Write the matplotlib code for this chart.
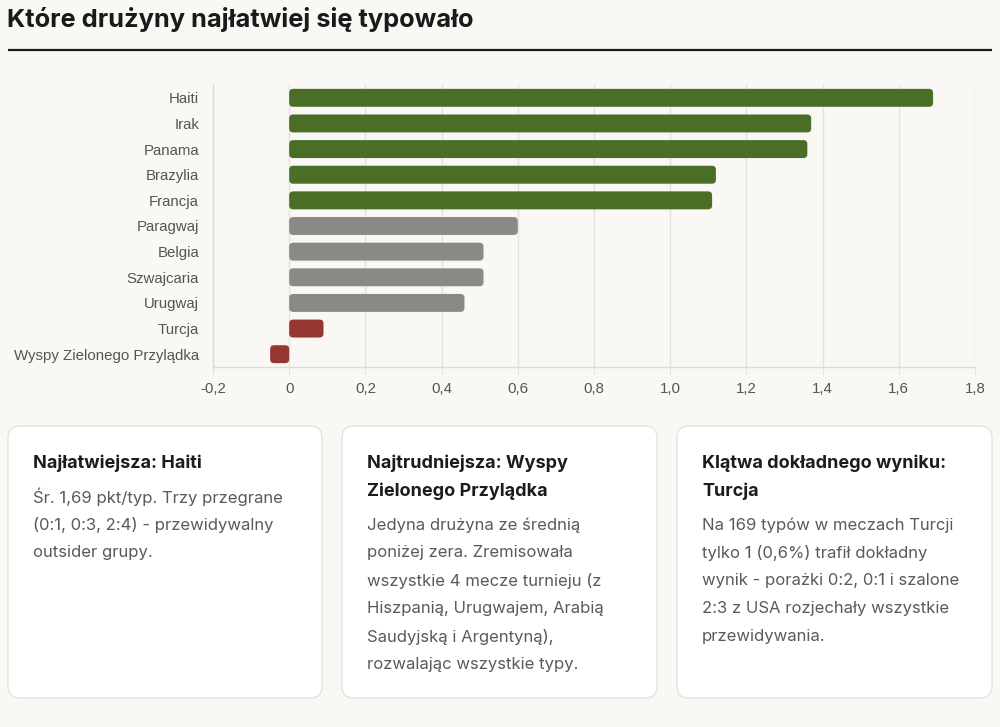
import matplotlib
matplotlib.use("Agg")
import matplotlib.pyplot as plt
from matplotlib.patches import FancyBboxPatch

teams = ["Haiti", "Irak", "Panama", "Brazylia", "Francja", "Paragwaj", "Belgia",
         "Szwajcaria", "Urugwaj", "Turcja", "Wyspy Zielonego Przylądka"]
values = [1.69, 1.37, 1.36, 1.12, 1.11, 0.60, 0.51, 0.51, 0.46, 0.09, -0.05]
groups = ["top", "top", "top", "top", "top", "mid", "mid", "mid", "mid", "low", "low"]
xticks = [-0.2, 0, 0.2, 0.4, 0.6, 0.8, 1.0, 1.2, 1.4, 1.6, 1.8]
xtick_labels = ["-0,2", "0", "0,2", "0,4", "0,6", "0,8", "1,0", "1,2", "1,4", "1,6", "1,8"]

title = "Które drużyny najłatwiej się typowało"
card_titles = [
    ["Najłatwiejsza: Haiti"],
    ["Najtrudniejsza: Wyspy", "Zielonego Przylądka"],
    ["Klątwa dokładnego wyniku:", "Turcja"],
]
card_bodies = [
    ["Śr. 1,69 pkt/typ. Trzy przegrane", "(0:1, 0:3, 2:4) - przewidywalny", "outsider grupy."],
    ["Jedyna drużyna ze średnią", "poniżej zera. Zremisowała", "wszystkie 4 mecze turnieju (z",
     "Hiszpanią, Urugwajem, Arabią", "Saudyjską i Argentyną),", "rozwalając wszystkie typy."],
    ["Na 169 typów w meczach Turcji", "tylko 1 (0,6%) trafił dokładny",
     "wynik - porażki 0:2, 0:1 i szalone", "2:3 z USA rozjechały wszystkie", "przewidywania."],
]

BG = "#f9f8f5"
colors = {"top": "#4a6e26", "mid": "#8a8985", "low": "#953631"}

W, H = 1000, 727
fig = plt.figure(figsize=(W / 100, H / 100), dpi=100, facecolor=BG)

# overlay in pixel coordinates
ov = fig.add_axes([0, 0, 1, 1], zorder=0)
ov.set_xlim(0, W)
ov.set_ylim(H, 0)
ov.axis("off")
ov.patch.set_alpha(0)

ov.text(7, 19, title, fontsize=18.3, fontweight="bold", color="#1a1a1a",
        family=["Inter", "DejaVu Sans"], va="center", ha="left")
ov.plot([8, 992], [50, 50], color="#1a1a1a", lw=1.6, solid_capstyle="butt")

card_x = [(8, 322), (342, 657), (677, 992)]
card_top, card_bot = 426, 698
for (x0, x1), tl, bl in zip(card_x, card_titles, card_bodies):
    ov.add_patch(FancyBboxPatch((x0, card_top), x1 - x0, card_bot - card_top,
                                boxstyle="round,pad=0,rounding_size=12",
                                facecolor="white", edgecolor="#e6e3de", lw=1.0))
    y = 463
    for line in tl:
        ov.text(x0 + 25, y, line, fontsize=13, fontweight="bold", color="#1c1c1c",
                family=["Inter", "DejaVu Sans"], va="center", ha="left")
        y += 28
    y += 6
    for line in bl:
        ov.text(x0 + 25, y, line, fontsize=12, color="#5a5a5a",
                family=["Inter", "DejaVu Sans"], va="center", ha="left")
        y += 28

# chart axes
left_px, right_px, top_px, bot_px = 213, 975, 85, 367
ax = fig.add_axes([left_px / W, 1 - bot_px / H, (right_px - left_px) / W, (bot_px - top_px) / H],
                  zorder=1)
ax.set_facecolor("none")

ypos = list(range(len(teams)))
bars = ax.barh(ypos, values, height=0.7, color=[colors[g] for g in groups])
ax.set_xlim(-0.2, 1.8)
ax.set_ylim(len(teams) - 0.5, -0.5)

# replace with rounded bars
px_per_x = (right_px - left_px) / 2.0
px_per_y = (bot_px - top_px) / len(teams)
r_px = 4
rx = r_px / px_per_x
aspect = (r_px / px_per_y) / rx
for b in bars:
    x, y0 = b.get_x(), b.get_y()
    w, h = b.get_width(), b.get_height()
    if w < 0:
        x, w = x + w, -w
    fc = b.get_facecolor()
    b.set_visible(False)
    p = FancyBboxPatch((x, y0), w, h, boxstyle=f"round,pad=0,rounding_size={rx}",
                       mutation_aspect=aspect, facecolor=fc, edgecolor="none", zorder=3)
    ax.add_patch(p)

ax.set_xticks(xticks)
ax.set_xticklabels(xtick_labels)
ax.set_yticks(ypos)
ax.set_yticklabels(teams)
ax.grid(axis="x", color="#e4e2de", lw=1.0, zorder=0)
ax.set_axisbelow(True)
for s in ["top", "right"]:
    ax.spines[s].set_visible(False)
for s in ["left", "bottom"]:
    ax.spines[s].set_color("#dcdad6")
    ax.spines[s].set_linewidth(1.0)
ax.tick_params(axis="x", length=5, color="#e4e2de", labelsize=10.8, labelcolor="#555555", pad=6)
ax.tick_params(axis="y", length=0, labelsize=10.8, labelcolor="#555555", pad=10)
for lab in ax.get_xticklabels() + ax.get_yticklabels():
    lab.set_family(["Liberation Sans", "DejaVu Sans"])

fig.savefig("out.png", dpi=100, facecolor=BG)
